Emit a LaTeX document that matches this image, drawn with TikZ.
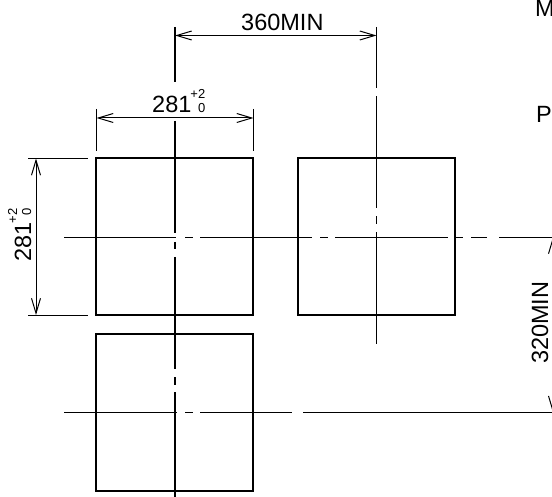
\documentclass[tikz,border=0pt]{standalone}
\usepackage{fontspec}
\setmainfont{Liberation Sans}
\usetikzlibrary{arrows.meta}
\newcommand{\tolpair}{\raisebox{14pt}{\fontsize{13}{13}\selectfont\kern-1pt +2}\llap{\fontsize{13}{13}\selectfont 0}}
\tikzset{
    panel/.style={draw, line width=2pt, minimum size=157pt, inner sep=0pt},
    centreline/.style={line width=1.4pt},
    extline/.style={line width=1.3pt},
    dimline/.style={line width=1pt, {Straight Barb[length=15pt,width=9pt]}-{Straight Barb[length=15pt,width=9pt]}},
    dimtext/.style={inner sep=0pt, font=\fontsize{23.5}{23.5}\selectfont},
}
\begin{document}
\begin{tikzpicture}[x=1pt,y=-1pt]
    \path[use as bounding box,clip] (0,0) rectangle (552,497);
    \node[panel] (boxa) at (174.7,236.5) {};
    \node[panel] (boxb) at (376.7,236.5) {};
    \node[panel] (boxc) at (174.7,412.5) {};
    % centre lines
    \foreach \from/\to in {64/176,185/193,200/312,320/328,335/448,456/463,471/487,499/552}
        \draw[centreline] (\from,237.3) -- (\to,237.3);
    \foreach \from/\to in {64/176.5,185/193,200/292,303/552}
        \draw[centreline] (\from,412.7) -- (\to,412.7);
    \foreach \from/\to in {27/82,121/233,242/249,257/369,377/385,392/497}
        \draw[centreline] (175,\from) -- (175,\to);
    \foreach \from/\to in {27/88.5,96.5/208.5,216.5/224.5,232.5/344}
        \draw[centreline] (376.5,\from) -- (376.5,\to);
    % extension lines
    \draw[extline] (96.5,109) -- (96.5,151);
    \draw[extline] (253.5,109) -- (253.5,151);
    \draw[extline] (28,158.3) -- (88,158.3);
    \draw[extline] (28,315.3) -- (88,315.3);
    % dimensions
    \coordinate (topl) at (175,35.5);
    \coordinate (topr) at (376.5,35.5);
    \coordinate (midl) at (96.5,118);
    \coordinate (midr) at (253.5,118);
    \coordinate (leftt) at (36,158.5);
    \coordinate (leftb) at (36,315);
    \coordinate (rightt) at (553,237);
    \coordinate (rightb) at (553,412.7);
    \draw[dimline] (topl) -- (topr);
    \draw[dimline] (midl) -- (midr);
    \draw[dimline] (leftt) -- (leftb);
    \draw[dimline] (rightt) -- (rightb);
    \node[dimtext, anchor=base west] (wide) at (241,31) {360MIN};
    \node[dimtext, anchor=base west] (sizea) at (152,113) {281\tolpair};
    \node[dimtext, anchor=base west, rotate=90] (sizeb) at (31,262) {281\tolpair};
    \node[dimtext, anchor=base west, rotate=90] (tall) at (548,364) {320MIN};
    \node[dimtext, anchor=base west] (labelm) at (535,16.5) {M};
    \node[dimtext, anchor=base west] (labelp) at (536,123) {P};
\end{tikzpicture}
\end{document}
